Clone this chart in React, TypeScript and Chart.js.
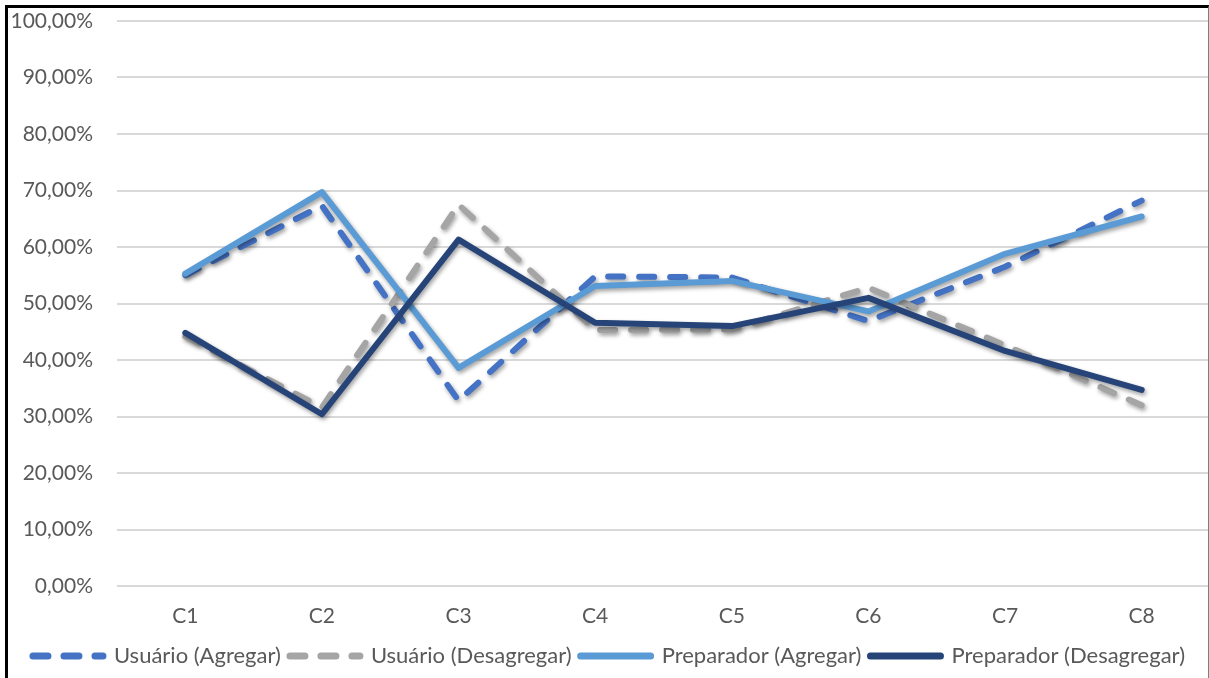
import React, { useEffect, useRef } from "react";
import { Chart, registerables } from "chart.js";

Chart.register(...registerables);

const categories = ["C1", "C2", "C3", "C4", "C5", "C6", "C7", "C8"];
const seriesNames = [
  "Usuário (Agregar)",
  "Usuário (Desagregar)",
  "Preparador (Agregar)",
  "Preparador (Desagregar)",
];
const usuarioAgregar = [55.0, 67.3, 32.8, 54.8, 54.6, 46.9, 56.5, 68.2];
const usuarioDesagregar = [44.2, 31.6, 67.5, 45.3, 45.4, 52.8, 42.6, 32.0];
const preparadorAgregar = [55.3, 69.7, 38.6, 53.1, 54.0, 48.6, 58.8, 65.4];
const preparadorDesagregar = [44.8, 30.4, 61.3, 46.6, 46.0, 51.0, 41.6, 34.7];
const yTicks = [0, 10, 20, 30, 40, 50, 60, 70, 80, 90, 100];

const FONT = "Lato";
const TEXT = "#595959";

const shadowPlugin = {
  id: "lineShadow",
  beforeDatasetsDraw(chart: any) {
    const c = chart.ctx;
    c.save();
    c.shadowColor = "rgba(0,0,0,0.38)";
    c.shadowBlur = 4;
    c.shadowOffsetX = 1.5;
    c.shadowOffsetY = 2.5;
  },
  afterDatasetsDraw(chart: any) {
    chart.ctx.restore();
  },
};

export default function App() {
  const ref = useRef<HTMLCanvasElement | null>(null);

  useEffect(() => {
    if (!ref.current) return;
    const mk = (label: string, data: number[], color: string, dashed: boolean, order: number) => ({
      label,
      data,
      borderColor: color,
      backgroundColor: color,
      borderWidth: 6,
      borderDash: dashed ? [15, 16] : [],
      borderCapStyle: "round",
      borderJoinStyle: "round",
      pointRadius: 0,
      pointHoverRadius: 0,
      tension: 0,
      fill: false,
      order,
    });
    const chart = new Chart(ref.current, {
      type: "line",
      data: {
        labels: categories,
        datasets: [
          mk(seriesNames[0], usuarioAgregar, "#4472C4", true, 4),
          mk(seriesNames[1], usuarioDesagregar, "#A5A5A5", true, 3),
          mk(seriesNames[2], preparadorAgregar, "#5B9BD5", false, 2),
          mk(seriesNames[3], preparadorDesagregar, "#264478", false, 1),
        ] as any,
      },
      options: {
        animation: false,
        responsive: false,
        maintainAspectRatio: false,
        layout: { padding: { top: 13, bottom: 1, left: 0, right: 4 } },
        plugins: {
          tooltip: { enabled: false },
          legend: {
            position: "bottom",
            labels: {
              usePointStyle: true,
              pointStyleWidth: 70,
              padding: 9,
              color: TEXT,
              font: { family: FONT, size: 22 },
              sort: (a: any, b: any) => a.datasetIndex - b.datasetIndex,
              generateLabels: (ch: any) => {
                const items = Chart.defaults.plugins.legend.labels.generateLabels(ch);
                return items.map((it: any) => {
                  const ds = ch.data.datasets[it.datasetIndex];
                  const dashed = ds.borderDash && ds.borderDash.length > 0;
                  return {
                    ...it,
                    pointStyle: "line",
                    strokeStyle: ds.borderColor,
                    fillStyle: ds.borderColor,
                    lineWidth: 7,
                    lineCap: "round",
                    lineDash: dashed ? [15, 16] : [],
                  };
                });
              },
            },
          },
        },
        scales: {
          x: {
            offset: true,
            grid: { display: false, drawTicks: false },
            border: { display: false },
            ticks: { color: TEXT, font: { family: FONT, size: 21 }, padding: 18 },
            afterFit: (s: any) => {
              s.height = 50;
            },
          },
          y: {
            min: 0,
            max: 100,
            afterBuildTicks: (s: any) => {
              s.ticks = yTicks.map((v) => ({ value: v }));
            },
            grid: { color: "#D9D9D9", lineWidth: 2, drawTicks: false },
            border: { display: false },
            ticks: {
              color: TEXT,
              font: { family: FONT, size: 21 },
              padding: 24,
              callback: (v: any) => Number(v).toFixed(2).replace(".", ",") + "%",
            },
            afterFit: (s: any) => {
              s.width = 109;
              s.paddingTop = 0;
              s.paddingBottom = 0;
            },
          },
        },
      } as any,
      plugins: [shadowPlugin],
    });
    return () => chart.destroy();
  }, []);

  return (
    <div
      style={{
        position: "absolute",
        left: 5,
        top: 5,
        width: 1200,
        height: 670,
        borderTop: "3px solid #000",
        borderLeft: "3px solid #000",
        borderRight: "1px solid #7f7f7f",
        overflow: "hidden",
        background: "#fff",
      }}
    >
      <canvas ref={ref} width={1206} height={670} style={{ display: "block", width: 1206, height: 670 }} />
    </div>
  );
}
